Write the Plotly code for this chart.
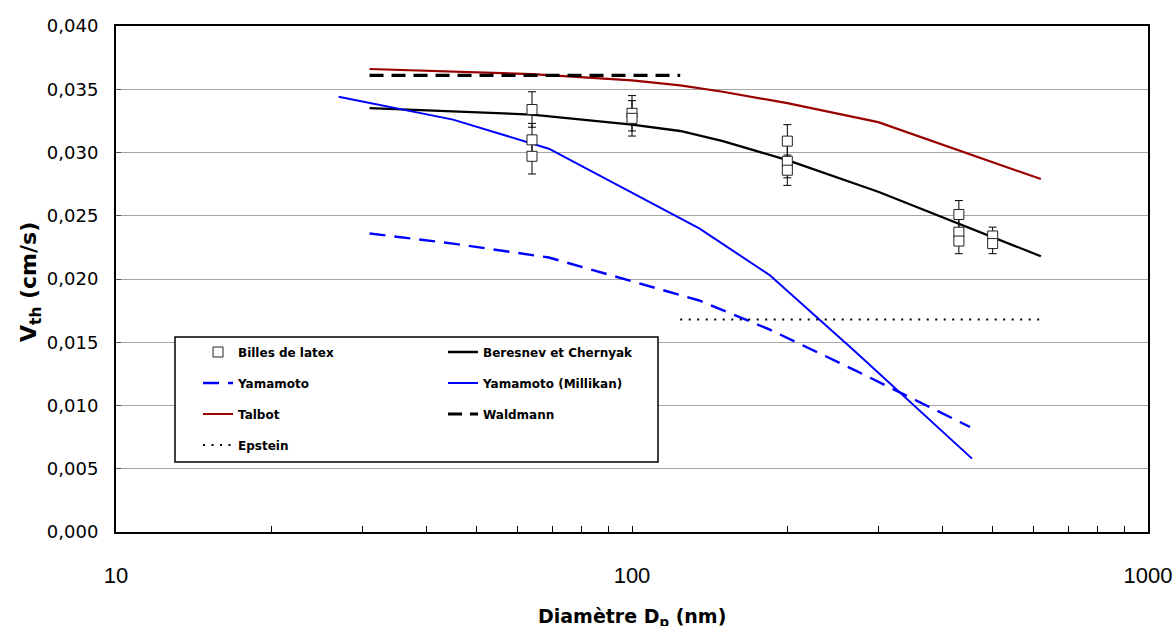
import plotly.graph_objects as go

# ---------------- data ----------------
latex_d = [64, 64, 64, 100, 100, 200, 200, 200, 430, 430, 430, 500, 500]
latex_v = [0.0334, 0.0310, 0.0297, 0.0331, 0.0327, 0.0309, 0.0293, 0.0286,
           0.0251, 0.0237, 0.0230, 0.0234, 0.0228]
latex_err = [0.0014, 0.0013, 0.0014, 0.0014, 0.0014, 0.0013, 0.0013, 0.0012,
             0.0011, 0.0010, 0.0010, 0.0007, 0.0008]

beresnev_d = [31, 64, 100, 124, 150, 200, 300, 620]
beresnev_v = [0.0335, 0.0330, 0.0322, 0.0317, 0.0309, 0.0294, 0.0269, 0.0218]

talbot_d = [31, 64, 100, 124, 150, 200, 300, 620]
talbot_v = [0.0366, 0.0362, 0.0357, 0.0353, 0.0348, 0.0339, 0.0324, 0.0279]

yamamoto_d = [31, 45, 69, 135, 185, 270, 452]
yamamoto_v = [0.0236, 0.0228, 0.0217, 0.0183, 0.0160, 0.0128, 0.0083]

millikan_d = [27, 45, 69, 135, 185, 270, 456]
millikan_v = [0.0344, 0.0326, 0.0303, 0.0240, 0.0203, 0.0143, 0.0058]

waldmann_d = [31, 124]
waldmann_v = [0.0361, 0.0361]

epstein_d = [124, 620]
epstein_v = [0.0168, 0.0168]

x_tickvals = [10, 100, 1000]
x_ticktext = ["10", "100", "1000"]

# ---------------- layout helpers ----------------
L, R, T, B = 116, 1148, 26, 532


def pxx(p):
    return (p - L) / (R - L)


def pxy(p):
    return (B - p) / (B - T)


LEG_FONT = dict(family="DejaVu Sans", size=12, color="black", weight="bold")

fig = go.Figure()

fig.add_trace(go.Scatter(x=beresnev_d, y=beresnev_v, mode="lines", name="Beresnev et Chernyak",
                         line=dict(color="black", width=2.3), legend="legend2"))
fig.add_trace(go.Scatter(x=yamamoto_d, y=yamamoto_v, mode="lines", name="Yamamoto",
                         line=dict(color="#0000FF", width=2.4, dash="16px,9px"), legend="legend3"))
fig.add_trace(go.Scatter(x=millikan_d, y=millikan_v, mode="lines", name="Yamamoto (Millikan)",
                         line=dict(color="#0000FF", width=2), legend="legend4"))
fig.add_trace(go.Scatter(x=talbot_d, y=talbot_v, mode="lines", name="Talbot",
                         line=dict(color="#990000", width=2.2), legend="legend5"))
fig.add_trace(go.Scatter(x=waldmann_d, y=waldmann_v, mode="lines", name="Waldmann",
                         line=dict(color="black", width=3.2, dash="14px,8px"), legend="legend6"))
fig.add_trace(go.Scatter(x=epstein_d, y=epstein_v, mode="lines", name="Epstein",
                         line=dict(color="black", width=1.8, dash="2px,6.5px"), legend="legend7"))
fig.add_trace(go.Scatter(x=latex_d, y=latex_v, mode="markers", name="Billes de latex",
                         marker=dict(symbol="square", size=10, color="white",
                                     line=dict(color="#222222", width=1)),
                         error_y=dict(type="data", array=latex_err, color="black",
                                      thickness=1, width=4),
                         legend="legend"))

# legend entries placed individually (2-column layout inside a framed box)
leg_pos = {
    "legend": (203, 352), "legend2": (448, 352),
    "legend3": (203, 383), "legend4": (448, 383),
    "legend5": (203, 414), "legend6": (448, 414),
    "legend7": (203, 445),
}
leg_layout = {}
for key, (sx, sy) in leg_pos.items():
    leg_layout[key] = dict(x=pxx(sx - 5), y=pxy(sy), xanchor="left", yanchor="middle",
                           xref="paper", yref="paper",
                           bgcolor="rgba(0,0,0,0)", borderwidth=0, font=LEG_FONT,
                           itemwidth=30, tracegroupgap=0)

fig.update_layout(**leg_layout)

fig.update_layout(
    width=1176, height=626,
    margin=dict(l=L, r=1176 - R, t=T, b=626 - B, autoexpand=False),
    paper_bgcolor="white", plot_bgcolor="white",
    separators=", ",
    showlegend=True,
    xaxis=dict(type="log", range=[1, 3], tickvals=x_tickvals, ticktext=x_ticktext,
               showgrid=False, zeroline=False,
               showline=True, linecolor="black", linewidth=2, mirror=True,
               ticks="inside", ticklen=6, tickcolor="black", tickwidth=1,
               minor=dict(ticks="inside", ticklen=6, tickcolor="black", tickwidth=1,
                          dtick="D1", showgrid=False),
               tickfont=dict(family="Liberation Sans", size=22, color="black"),
               ticklabelstandoff=23),
    yaxis=dict(range=[0, 0.040], dtick=0.005, tickformat=".3f",
               showgrid=True, gridcolor="#A6A6A6", gridwidth=1, zeroline=False,
               showline=True, linecolor="black", linewidth=2, mirror=True,
               ticks="inside", ticklen=5, tickcolor="#555555",
               tickfont=dict(family="DejaVu Sans", size=18, color="black"),
               ticklabelstandoff=12),
    shapes=[dict(type="rect", xref="paper", yref="paper",
                 x0=pxx(175), x1=pxx(658), y0=pxy(462), y1=pxy(337),
                 line=dict(color="black", width=1.5), fillcolor="white", layer="above")],
    annotations=[
        dict(text="V<sub>th</sub> (cm/s)", textangle=-90, xref="paper", yref="paper",
             x=pxx(30), y=pxy(282), xanchor="center", yanchor="middle", showarrow=False,
             font=dict(family="DejaVu Sans", size=22, color="black", weight="bold")),
        dict(text="Diamètre D<sub>p</sub> (nm)", xref="paper", yref="paper",
             x=0.5, y=pxy(617), xanchor="center", yanchor="middle", showarrow=False,
             font=dict(family="DejaVu Sans", size=19, color="black", weight="bold")),
    ],
)

fig.write_html("out.html", config={"displayModeBar": False},
               post_script="document.body.style.margin='0';document.body.style.overflow='hidden';")
